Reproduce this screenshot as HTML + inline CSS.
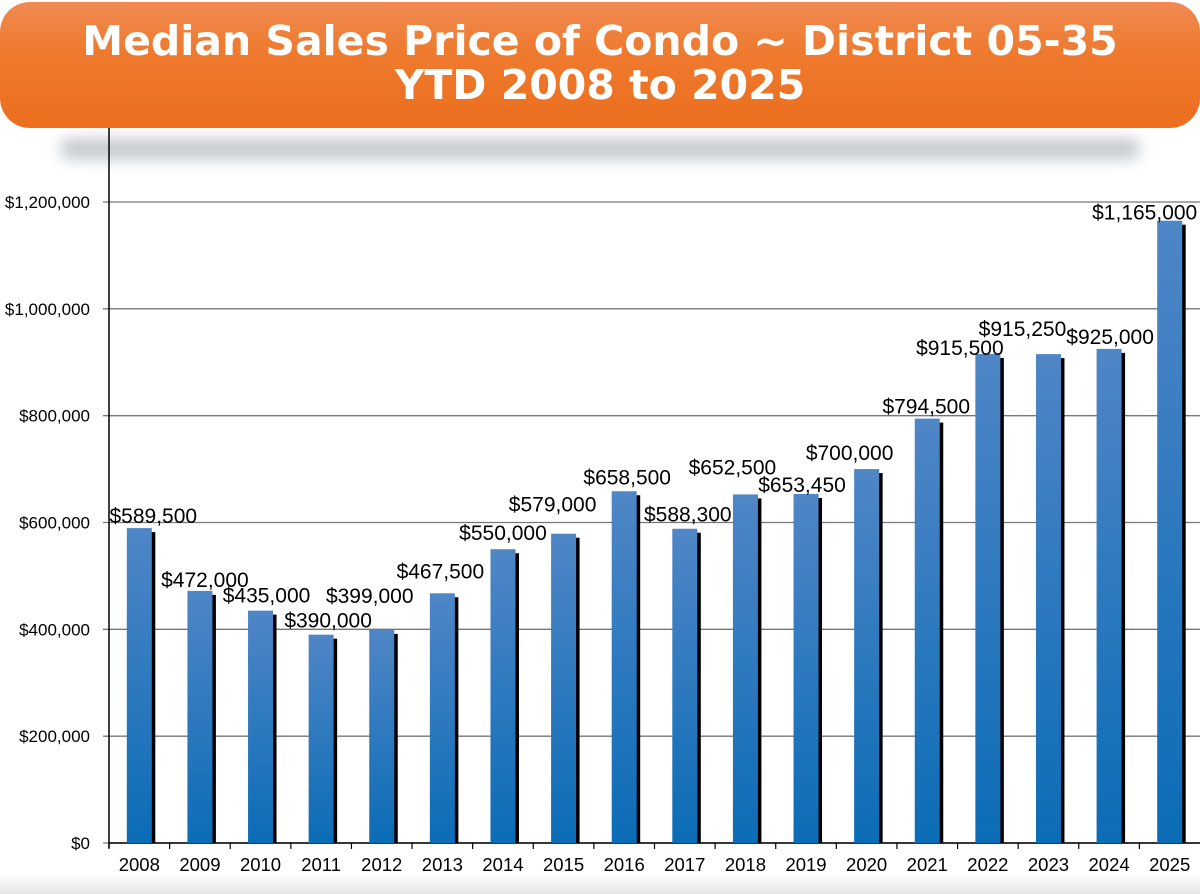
<!DOCTYPE html>
<html><head><meta charset="utf-8"><style>
html,body{margin:0;padding:0;background:#fff;}
body{width:1200px;height:894px;overflow:hidden;position:relative;font-family:"Liberation Sans",sans-serif;}
#title{position:absolute;left:0;top:2px;width:1200px;height:126px;border-radius:30px;background:linear-gradient(#f08a52,#ee7a2e 40%,#ec6e1e);color:#fff;font-weight:bold;font-size:41px;text-align:center;line-height:44px;padding-top:17px;box-sizing:border-box;font-family:"DejaVu Sans","Liberation Sans",sans-serif;}
#shadow{position:absolute;left:60px;top:138px;width:1080px;height:22px;background:#c8ccd0;filter:blur(7px);border-radius:10px;}
#foot{position:absolute;left:0;top:874px;width:1200px;height:20px;background:linear-gradient(#fff,#e4e4e4);}
svg{position:absolute;left:0;top:0;}
</style></head><body>
<div id="shadow"></div>
<div id="foot"></div>
<svg id="chart" width="1200" height="894"></svg>
<div id="title">Median Sales Price of Condo ~ District 05-35<br>YTD 2008 to 2025</div>
<script>
const categories=["2008","2009","2010","2011","2012","2013","2014","2015","2016","2017","2018","2019","2020","2021","2022","2023","2024","2025"];
const values=[589500,472000,435000,390000,399000,467500,550000,579000,658500,588300,652500,653450,700000,794500,915500,915250,925000,1165000];
const valueLabels=["$589,500","$472,000","$435,000","$390,000","$399,000","$467,500","$550,000","$579,000","$658,500","$588,300","$652,500","$653,450","$700,000","$794,500","$915,500","$915,250","$925,000","$1,165,000"];
const yTicks=[0,200000,400000,600000,800000,1000000,1200000];
const yTickLabels=["$0","$200,000","$400,000","$600,000","$800,000","$1,000,000","$1,200,000"];
// label placement offsets (styling)
const labelDx=[14,5,6,7,-12,-2,0,-11,3,3,-13,-4,-17,-1,-28,-26,1,-25];
const labelDy=[-5,-4,-8,-7,-27,-15,-9,-22,-7,-7,-20,-2,-9,-5,1,-18,-5,-1];

const NS="http://www.w3.org/2000/svg";
const svg=document.getElementById('chart');
const X0=109,X1=1200,Y0=843,Y1=202,VMAX=1200000;
const bw=(X1-X0)/categories.length;
const y=v=>Y0-(v/VMAX)*(Y0-Y1);
const xc=i=>X0+bw*(i+0.5);
function mk(t,a){const e=document.createElementNS(NS,t);for(const k in a)e.setAttribute(k,a[k]);svg.appendChild(e);return e;}
const defs=mk('defs',{});
defs.innerHTML='<linearGradient id="bg" x1="0" y1="0" x2="0" y2="1"><stop offset="0" stop-color="#4f86c6"/><stop offset="1" stop-color="#0b6cb6"/></linearGradient>';
yTicks.forEach((t,i)=>{
  const g=mk('line',{x1:X0-6,x2:X1,y1:y(t),y2:y(t),stroke:'#777','stroke-width':1.3});
  
  
  const tx=mk('text',{x:90,y:y(t)+6,'text-anchor':'end','font-size':17,fill:'#000'});
  tx.textContent=yTickLabels[i];
  
  
});
const ax=mk('line',{x1:X0,x2:X0,y1:128,y2:Y0+5,stroke:'#000','stroke-width':1.5});


const xa=mk('line',{x1:X0,x2:X1,y1:Y0,y2:Y0,stroke:'#000','stroke-width':1.5});


categories.forEach((c,i)=>{
  const tk=mk('line',{x1:X0+bw*i,x2:X0+bw*i,y1:Y0,y2:Y0+6,stroke:'#000','stroke-width':1.2});
  
  
  const top=y(values[i]);
  const sh=mk('rect',{x:xc(i)+12,y:top+4,width:4,height:Y0-top-4,fill:'#000'});
  
  
  const b=mk('rect',{x:xc(i)-12.5,y:top,width:25,height:Y0-top,fill:'url(#bg)'});
  
  
  const lb=mk('text',{x:xc(i)+labelDx[i],y:top+labelDy[i],'text-anchor':'middle','font-size':21,fill:'#000'});
  lb.textContent=valueLabels[i];
  
  
  const xl=mk('text',{x:xc(i),y:871,'text-anchor':'middle','font-size':18.5,fill:'#000'});
  xl.textContent=c;
  
  
});
</script>
</body></html>
